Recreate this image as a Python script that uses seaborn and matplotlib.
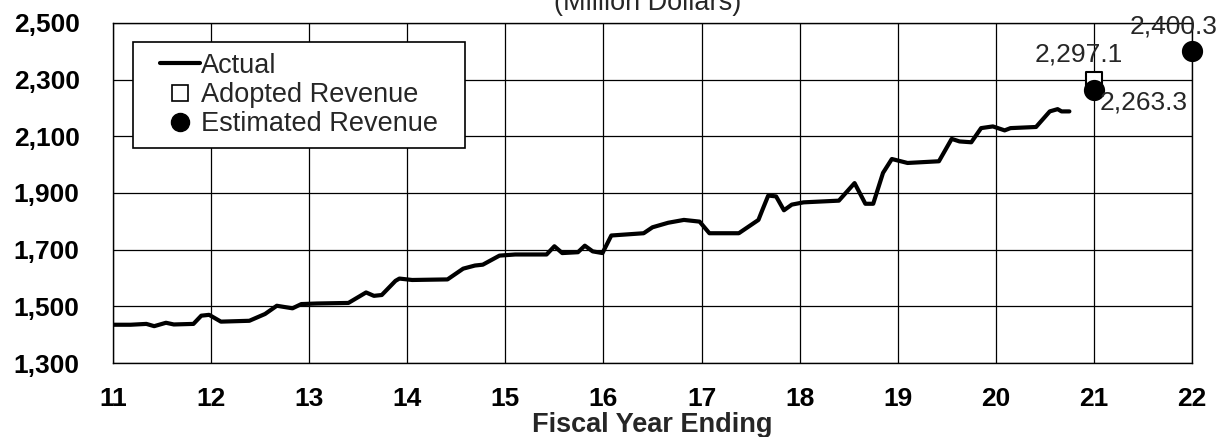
import numpy as np
import pandas as pd
import matplotlib
matplotlib.use('Agg')
import matplotlib.pyplot as plt
import seaborn as sns
from matplotlib.lines import Line2D
from matplotlib.path import Path

# fiscal year position (fractional) and 12-month revenue total
actual_x = [11.0, 11.18, 11.34, 11.42, 11.54, 11.62, 11.82, 11.9, 11.98, 12.1,
            12.39, 12.55, 12.67, 12.83, 12.92, 13.08, 13.4, 13.58, 13.66, 13.74,
            13.88, 13.92, 14.05, 14.41, 14.57, 14.69, 14.77, 14.94, 15.1, 15.42,
            15.5, 15.58, 15.74, 15.81, 15.89, 15.99, 16.08, 16.41, 16.5, 16.66,
            16.82, 16.98, 17.08, 17.38, 17.58, 17.62, 17.68, 17.76, 17.84, 17.92,
            18.04, 18.4, 18.56, 18.67, 18.75, 18.85, 18.94, 19.1, 19.42, 19.55,
            19.63, 19.75, 19.85, 19.97, 20.09, 20.15, 20.41, 20.55, 20.63, 20.67,
            20.75]
actual_y = [1435, 1435, 1438, 1430, 1442, 1436, 1438, 1467, 1470, 1446,
            1449, 1473, 1502, 1493, 1508, 1510, 1512, 1549, 1537, 1540,
            1590, 1598, 1593, 1595, 1633, 1644, 1647, 1679, 1683, 1683,
            1712, 1688, 1691, 1714, 1694, 1688, 1750, 1758, 1779, 1795,
            1805, 1799, 1758, 1758, 1805, 1840, 1891, 1888, 1839, 1859,
            1867, 1873, 1935, 1862, 1862, 1971, 2020, 2006, 2012, 2091,
            2082, 2079, 2129, 2135, 2121, 2129, 2133, 2188, 2196, 2188,
            2188]

adopted_x = [21]
adopted_y = [2297.1]
estimated_x = [21, 22]
estimated_y = [2263.3, 2400.3]

x_ticks = list(range(11, 23))
y_ticks = list(range(1300, 2501, 200))

sns.set_theme(style='white')
plt.rcParams['font.family'] = ['Liberation Sans', 'DejaVu Sans']

fig, ax = plt.subplots(figsize=(12.26, 4.37), dpi=100)
fig.subplots_adjust(left=113/1226, right=1192/1226, top=1-23/437, bottom=1-363/437)

df = pd.DataFrame({'x': actual_x, 'y': actual_y})
sns.lineplot(x='x', y='y', data=df, ax=ax, color='black', linewidth=3, zorder=3)
sns.scatterplot(x=adopted_x, y=adopted_y, ax=ax, marker='s', s=130,
                facecolor='white', edgecolor='black', linewidth=1.5, zorder=4, clip_on=False)
sns.scatterplot(x=estimated_x, y=estimated_y, ax=ax, marker='o', s=200,
                color='black', edgecolor='black', zorder=5, clip_on=False)

lab_kw = dict(textcoords='offset pixels', fontsize=19, ha='center', va='center', zorder=6)
ax.annotate(f'{adopted_y[0]:,.1f}', (adopted_x[0], adopted_y[0]), xytext=(-15, 26), **lab_kw)
ax.annotate(f'{estimated_y[0]:,.1f}', (estimated_x[0], estimated_y[0]), xytext=(50, -12), **lab_kw)
ax.annotate(f'{estimated_y[1]:,.1f}', (estimated_x[1], estimated_y[1]), xytext=(-18, 25), **lab_kw)

ax.set_xlim(11, 22)
ax.set_ylim(1300, 2500)
ax.set_xticks(x_ticks)
ax.set_yticks(y_ticks)
ax.set_xticklabels([str(t) for t in x_ticks], fontsize=19, fontweight='bold')
ax.set_yticklabels([f'{t:,}' for t in y_ticks], fontsize=19, fontweight='bold')
ax.tick_params(axis='both', direction='out', length=7, width=1, color='black', colors='black')
ax.tick_params(axis='y', pad=17)
ax.tick_params(axis='x', pad=10)
ax.grid(True, color='black', linewidth=0.9)
for sp in ax.spines.values():
    sp.set_color('black')
    sp.set_linewidth(1)

ax.set_xlabel('Fiscal Year Ending', fontsize=19.5, fontweight='bold', va='center')
ax.xaxis.set_label_coords(0.5, -0.183)
ax.set_ylabel('')

fig.text(0.528, 1 - 10/437, '(Million Dollars)', ha='center', va='baseline', fontsize=19.5)

handles = [
    Line2D([], [], color='black', linewidth=3),
    Line2D([], [], linestyle='none', marker='s', markersize=11,
           markerfacecolor='white', markeredgecolor='black', markeredgewidth=1.2),
    Line2D([], [], linestyle='none', marker='o', markersize=13,
           markerfacecolor='black', markeredgecolor='black'),
]


def wide_box(x0, y0, width, height, mutation_size):
    # legend frame with extra room left and right only
    dx = 0.6 * mutation_size
    x1, y1 = x0 - dx, y0 + height
    x2 = x0 + width + dx
    return Path([(x1, y0), (x2, y0), (x2, y1), (x1, y1), (x1, y0)], closed=True)


leg = ax.legend(handles, ['Actual', 'Adopted Revenue', 'Estimated Revenue'],
                loc='upper left', bbox_to_anchor=((133 + 16 - 113) / 1079, 0.944),
                borderaxespad=0, fontsize=19.5, handlelength=1.5, handletextpad=0.02,
                labelspacing=0.12, fancybox=False, framealpha=1,
                edgecolor='black', borderpad=0.4)
leg.get_frame().set_boxstyle(wide_box)
leg.get_frame().set_linewidth(1.2)

fig.savefig('out.png', dpi=100)
